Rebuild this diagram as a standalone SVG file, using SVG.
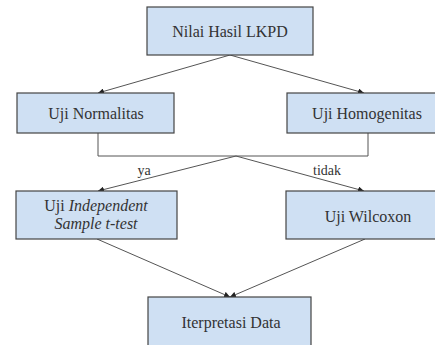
<svg xmlns="http://www.w3.org/2000/svg" width="435" height="345" viewBox="0 0 435 345">
<style>
.box{fill:#cfe0f3;stroke:#444;stroke-width:1.2}
text{font-family:'Liberation Serif','Times New Roman',Times,serif;fill:#333;text-anchor:middle}
.t{font-size:16px}
.lbl{font-size:14px}
.c{fill:none;stroke:#555;stroke-width:1}
</style>
<defs>
<marker id="ah" viewBox="0 0 10 10" refX="10" refY="5" markerWidth="6" markerHeight="6" orient="auto" markerUnits="userSpaceOnUse">
<path d="M0,0 L10,5 L0,10 z" fill="#222"/>
</marker>
</defs>
<rect width="435" height="345" fill="#fff"/>
<g id="connectors">
<line class="c" x1="230" y1="55" x2="98" y2="93" marker-end="url(#ah)"/>
<line class="c" x1="230" y1="55" x2="364" y2="93" marker-end="url(#ah)"/>
<polyline class="c" points="98,133 98,156 368,156 368,133"/>
<line class="c" x1="236" y1="156" x2="98" y2="191" marker-end="url(#ah)"/>
<line class="c" x1="236" y1="156" x2="364" y2="191" marker-end="url(#ah)"/>
<line class="c" x1="97" y1="239" x2="230" y2="297" marker-end="url(#ah)"/>
<line class="c" x1="365" y1="239" x2="230" y2="297" marker-end="url(#ah)"/>
<text class="lbl" x="144" y="175" font-family="Liberation Serif, serif">ya</text>
<text class="lbl" x="327" y="175" font-family="Liberation Serif, serif">tidak</text>
</g>
<g id="nilai">
<rect class="box" x="147" y="7" width="166" height="48"/>
<text class="t" x="230" y="37">Nilai Hasil LKPD</text>
</g>
<g id="normalitas">
<rect class="box" x="17" y="93" width="157" height="40"/>
<text class="t" x="96" y="119">Uji Normalitas</text>
</g>
<g id="homogenitas">
<rect class="box" x="287" y="93" width="160" height="40"/>
<text class="t" x="367" y="119">Uji Homogenitas</text>
</g>
<g id="independent">
<rect class="box" x="16" y="191" width="161" height="48"/>
<text class="t" x="96" y="211">Uji <tspan font-style="italic">Independent</tspan></text>
<text class="t" x="96" y="229" font-style="italic">Sample t-test</text>
</g>
<g id="wilcoxon">
<rect class="box" x="286" y="191" width="164" height="48"/>
<text class="t" x="368" y="222">Uji Wilcoxon</text>
</g>
<g id="interpretasi">
<rect class="box" x="148" y="297" width="163" height="52"/>
<text class="t" x="231" y="328">Iterpretasi Data</text>
</g>
</svg>
